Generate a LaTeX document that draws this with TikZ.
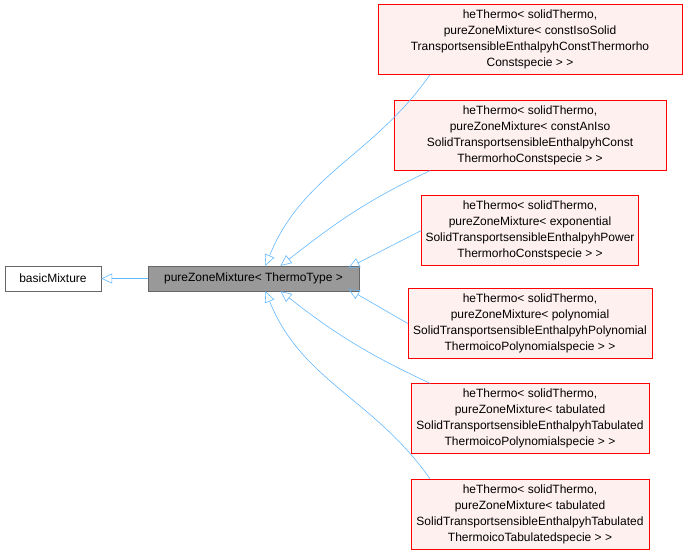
\documentclass[tikz,border=0pt]{standalone}
\usepackage{fontspec}
\setmainfont{Liberation Sans}
\usetikzlibrary{arrows.meta,positioning}
\definecolor{edgeblue}{HTML}{63B8FF}
\definecolor{boxred}{HTML}{FF0000}
\definecolor{boxfill}{HTML}{FFF0F0}
\definecolor{basegray}{HTML}{999999}
\begin{document}
\begin{tikzpicture}[x=1pt, y=1pt, font=\fontsize{12}{16}\selectfont,
   plain/.style={draw=black!60, fill=white, minimum height=25pt, inner sep=2pt},
   derived/.style={draw=boxred, fill=boxfill, align=center, minimum height=70pt, inner sep=2pt},
   inherit/.style={draw=edgeblue, semithick, {Triangle[open,length=11pt,width=10pt]}-}]
   \useasboundingbox (0,0) rectangle (689,-555);
   \node[plain, minimum width=96pt] (basic) at (53,-278.5) {basicMixture};
   \node[plain, fill=basegray, minimum width=211pt] (pure) at (253.5,-278.5) {pureZoneMixture< ThermoType >};
   \begin{scope}[every node/.style={derived}]
    \node[minimum width=304pt] (iso) at (530,-39.5) {heThermo< solidThermo,\\ pureZoneMixture< constIsoSolid\\ TransportsensibleEnthalpyhConstThermorho\\ Constspecie > >};
    \node[minimum width=272pt] (aniso) at (530,-135.5) {heThermo< solidThermo,\\ pureZoneMixture< constAnIso\\ SolidTransportsensibleEnthalpyhConst\\ ThermorhoConstspecie > >};
    \node[minimum width=217pt] (expo) at (530,-230.5) {heThermo< solidThermo,\\ pureZoneMixture< exponential\\ SolidTransportsensibleEnthalpyhPower\\ ThermorhoConstspecie > >};
    \node[minimum width=244pt] (poly) at (530,-323.5) {heThermo< solidThermo,\\ pureZoneMixture< polynomial\\ SolidTransportsensibleEnthalpyhPolynomial\\ ThermoicoPolynomialspecie > >};
    \node[minimum width=238pt] (tabpoly) at (530,-418.5) {heThermo< solidThermo,\\ pureZoneMixture< tabulated\\ SolidTransportsensibleEnthalpyhTabulated\\ ThermoicoPolynomialspecie > >};
    \node[minimum width=238pt] (tabtab) at (530,-514) {heThermo< solidThermo,\\ pureZoneMixture< tabulated\\ SolidTransportsensibleEnthalpyhTabulated\\ ThermoicoTabulatedspecie > >};
   \end{scope}
   \begin{scope}[every path/.style={inherit}]
    \draw (basic.east) -- (pure.west);
    \draw ([xshift=12pt]pure.north) to[out=68,in=-125] ([xshift=-100pt]iso.south);
    \draw ([xshift=27pt]pure.north) to[out=38,in=-155] ([xshift=-100pt]aniso.south);
    \draw ([xshift=95pt,yshift=-2pt]pure.north) -- (expo.west);
    \draw ([xshift=95pt,yshift=2pt]pure.south) -- (poly.west);
    \draw ([xshift=27pt]pure.south) to[out=-38,in=155] ([xshift=-100pt]tabpoly.north);
    \draw ([xshift=12pt]pure.south) to[out=-68,in=125] ([xshift=-100pt]tabtab.north);
   \end{scope}
\end{tikzpicture}
\end{document}
